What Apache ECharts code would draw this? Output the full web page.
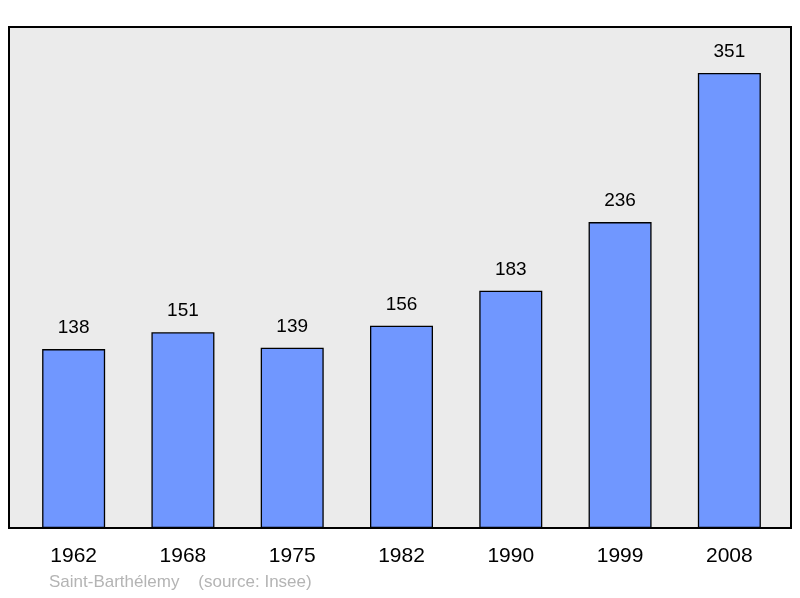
<!DOCTYPE html>
<html><head><meta charset="utf-8">
<script src="https://cdn.jsdelivr.net/npm/echarts@6/dist/echarts.min.js"></script>
<style>html,body{margin:0;padding:0;background:#fff}#c{width:800px;height:598px}</style>
</head><body><div id="c"></div>
<script>
var years = ['1962','1968','1975','1982','1990','1999','2008'];
var population = [138,151,139,156,183,236,351];
var chart = echarts.init(document.getElementById('c'));
chart.setOption({
  animation:false,
  graphic:[
    {type:'rect',z:-10,shape:{x:9,y:27,width:782,height:501},style:{fill:'#ebebeb',stroke:'#000',lineWidth:2}},
    {type:'text',left:49,top:574,style:{text:'Saint-Barthélemy    (source: Insee)',fill:'#b4b4b4',font:'17px "Liberation Sans", Arial'}}
  ],
  grid:{left:19,width:765,top:27,bottom:70},
  xAxis:{type:'category',data:years,axisLine:{show:false},axisTick:{show:false},
    axisLabel:{color:'#000',fontSize:21,fontFamily:'Liberation Sans',margin:18}},
  yAxis:{type:'value',min:0,max:386.5,show:false,splitLine:{show:false}},
  series:[{type:'bar',data:population,barWidth:63,
    itemStyle:{color:'#7097ff',borderColor:'#000',borderWidth:1.3},
    label:{show:true,position:'top',distance:12,color:'#000',fontSize:19,fontFamily:'Liberation Sans'}}]
});
</script></body></html>
